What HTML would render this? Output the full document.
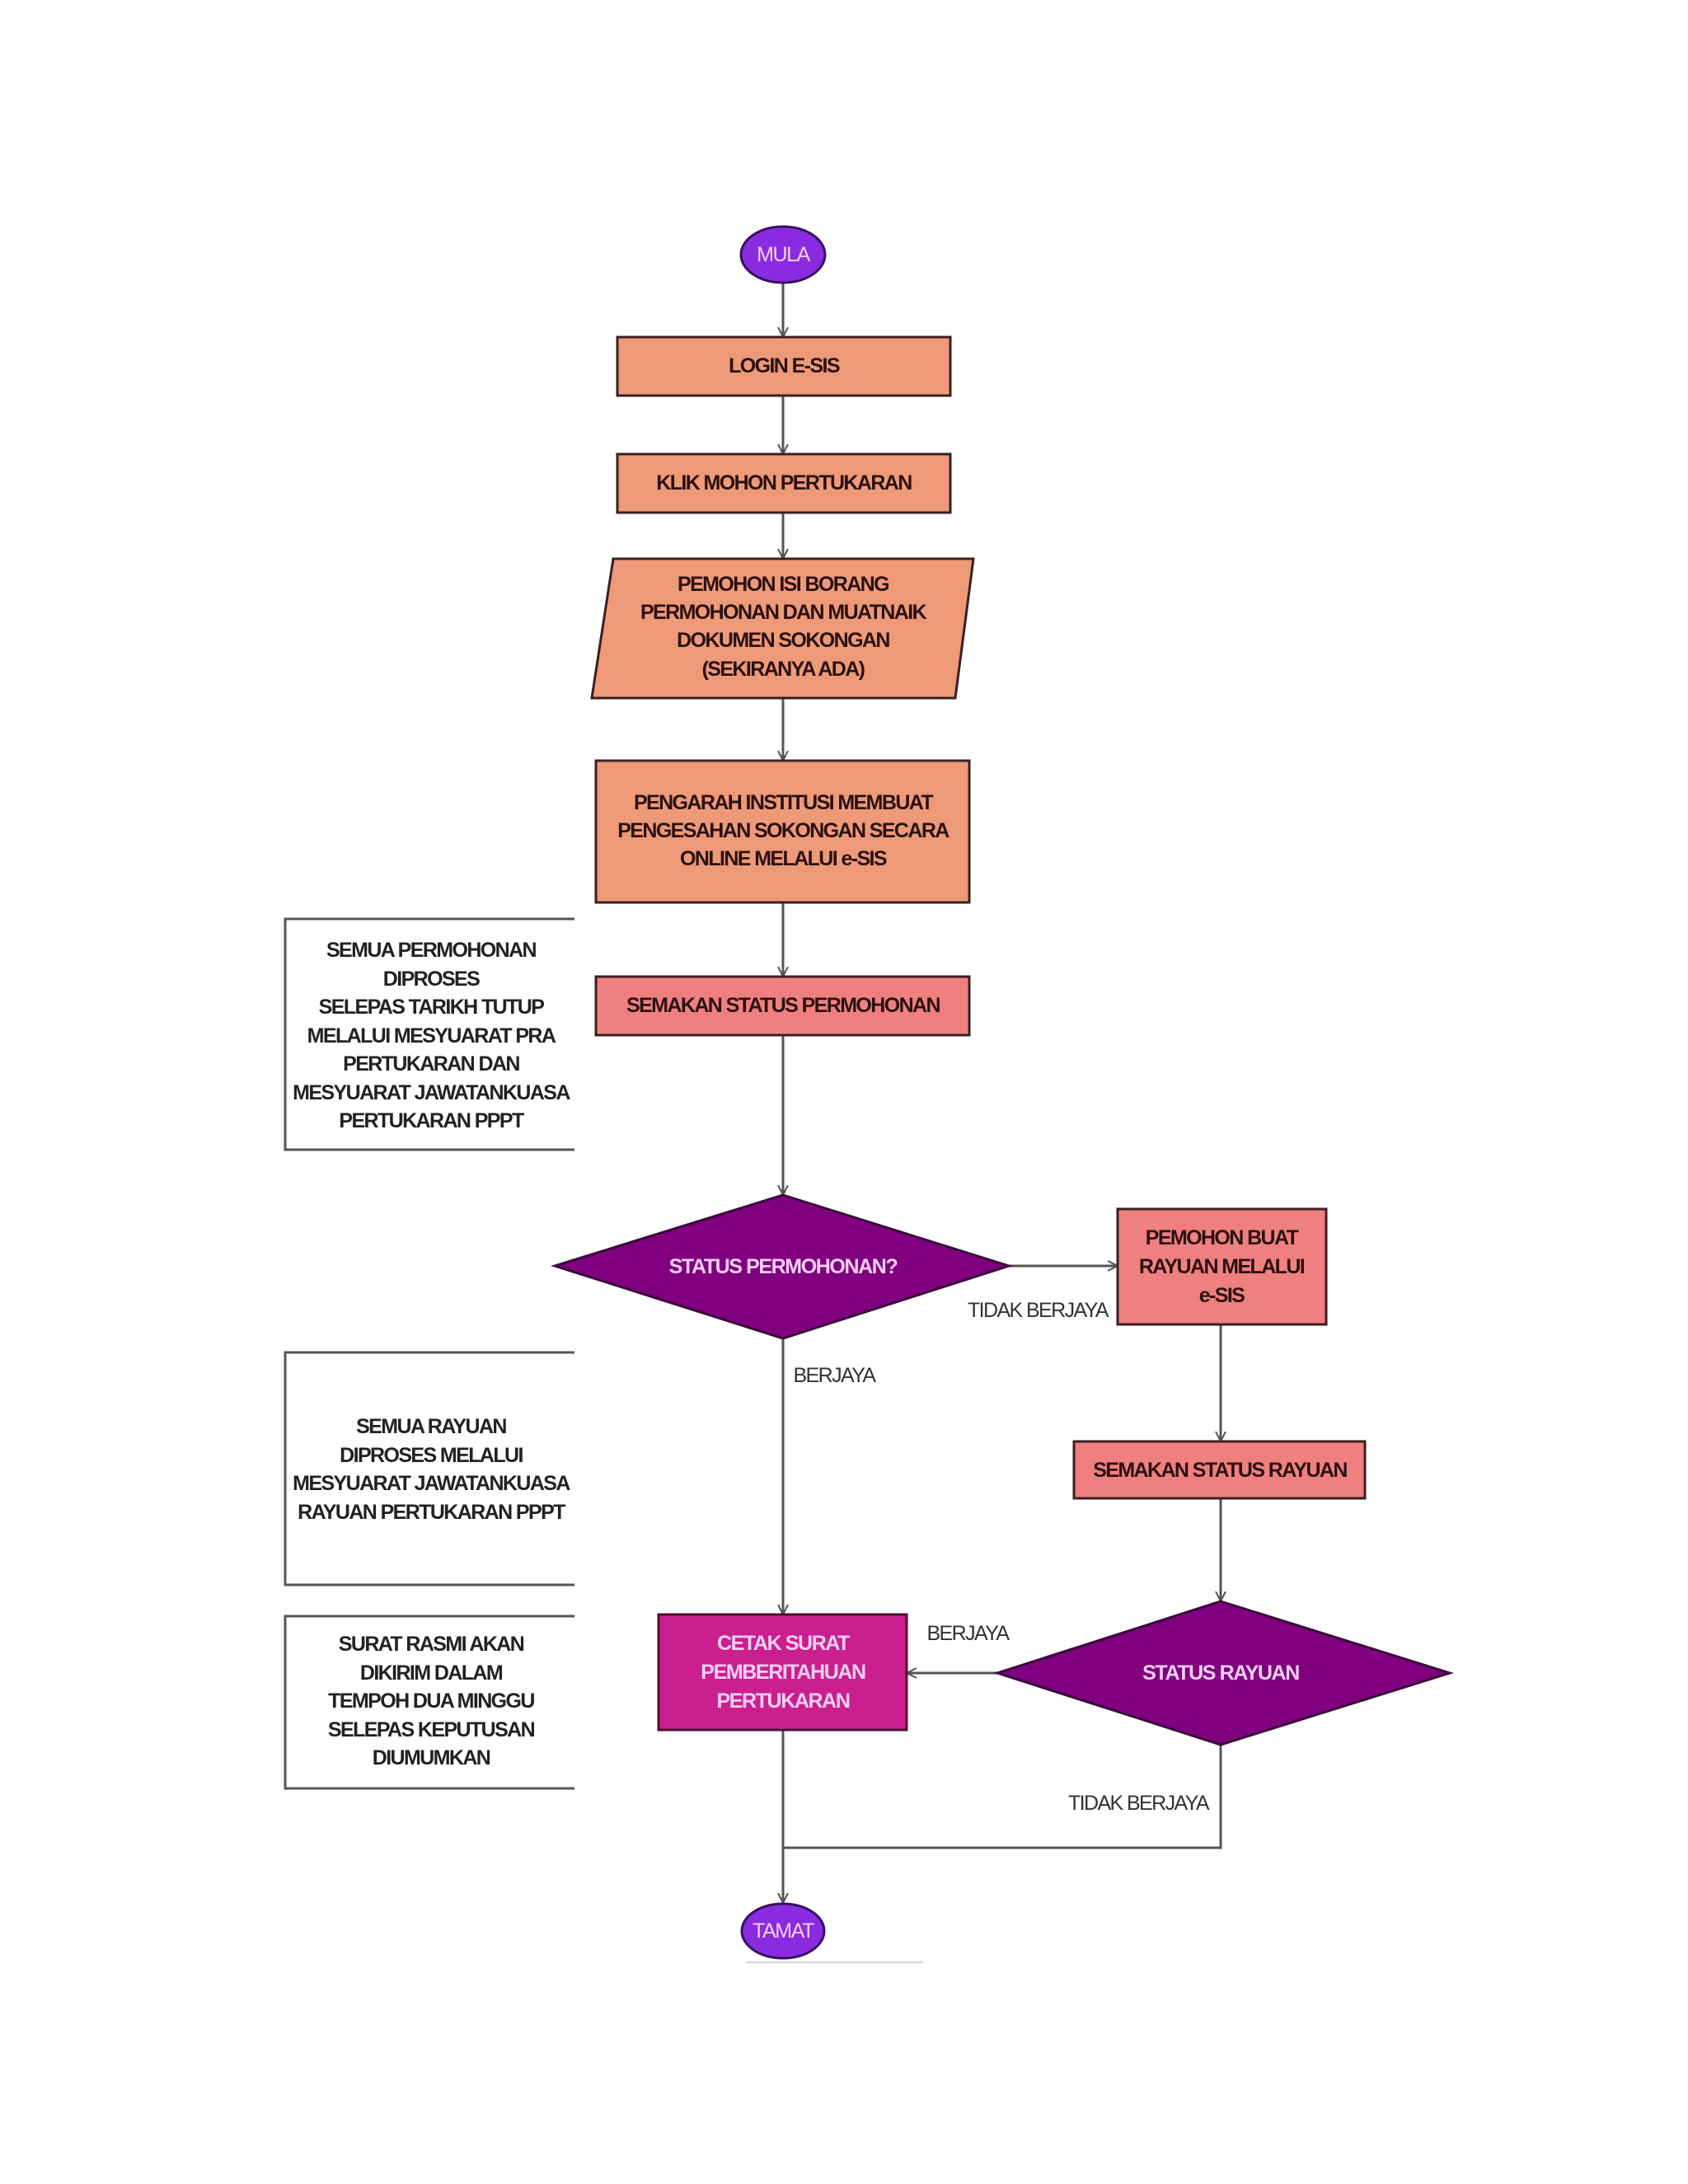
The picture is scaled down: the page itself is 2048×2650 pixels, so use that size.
<!DOCTYPE html>
<html><head><meta charset="utf-8"><style>
html,body{margin:0;padding:0;background:#fff;}
svg{display:block;}
text{font-family:"Liberation Sans",Arial,sans-serif;font-weight:bold;text-anchor:middle;dominant-baseline:central;}
.t{font-size:25px;letter-spacing:-1.6px;fill:#2a1010;}
.n{font-size:25px;letter-spacing:-1.6px;fill:#222;}
.w{font-size:25px;letter-spacing:-1.4px;fill:#f4d0f4;}
.l{font-size:25px;letter-spacing:-1.6px;fill:#333;font-weight:normal;}
</style></head><body>
<svg width="2048" height="2650" viewBox="0 0 2048 2650" xmlns="http://www.w3.org/2000/svg">
<defs><marker id="a" markerWidth="14" markerHeight="14" refX="12" refY="7" orient="auto" markerUnits="userSpaceOnUse"><path d="M0,1 L12,7 L0,13" fill="none" stroke="#555" stroke-width="2"/></marker></defs>
<g stroke="#555" stroke-width="3" fill="none">
<line x1="950" y1="343" x2="950" y2="409" marker-end="url(#a)"/>
<line x1="950" y1="480" x2="950" y2="551" marker-end="url(#a)"/>
<line x1="950" y1="622" x2="950" y2="678" marker-end="url(#a)"/>
<line x1="950" y1="847" x2="950" y2="923" marker-end="url(#a)"/>
<line x1="950" y1="1095" x2="950" y2="1185" marker-end="url(#a)"/>
<line x1="950" y1="1256" x2="950" y2="1450" marker-end="url(#a)"/>
<line x1="1224" y1="1536" x2="1356" y2="1536" marker-end="url(#a)"/>
<line x1="950" y1="1624" x2="950" y2="1959" marker-end="url(#a)"/>
<line x1="1481" y1="1607" x2="1481" y2="1749" marker-end="url(#a)"/>
<line x1="1481" y1="1818" x2="1481" y2="1943" marker-end="url(#a)"/>
<line x1="1210" y1="2030" x2="1100" y2="2030" marker-end="url(#a)"/>
<polyline points="1481,2117 1481,2242 950,2242"/>
<line x1="950" y1="2099" x2="950" y2="2309" marker-end="url(#a)"/>
</g>
<ellipse cx="950" cy="309" rx="51" ry="34" fill="#8a2be2" stroke="#3a1060" stroke-width="3"/>
<text x="950" y="309" class="w" style="font-weight:normal">MULA</text>
<rect x="749" y="409" width="404" height="71" fill="#ee9a78" stroke="#3a2020" stroke-width="3"/>
<text x="951" y="444" class="t">LOGIN E-SIS</text>
<rect x="749" y="551" width="404" height="71" fill="#ee9a78" stroke="#3a2020" stroke-width="3"/>
<text x="951" y="586" class="t">KLIK MOHON PERTUKARAN</text>
<polygon points="744,678 1181,678 1159,847 718,847" fill="#ee9a78" stroke="#3a2020" stroke-width="3"/>
<text x="950" y="709" class="t">PEMOHON ISI BORANG</text>
<text x="950" y="743" class="t">PERMOHONAN DAN MUATNAIK</text>
<text x="950" y="777" class="t">DOKUMEN SOKONGAN</text>
<text x="950" y="812" class="t">(SEKIRANYA  ADA)</text>
<rect x="723" y="923" width="453" height="172" fill="#ee9a78" stroke="#3a2020" stroke-width="3"/>
<text x="950" y="974" class="t">PENGARAH INSTITUSI MEMBUAT</text>
<text x="950" y="1008" class="t">PENGESAHAN SOKONGAN SECARA</text>
<text x="950" y="1042" class="t">ONLINE MELALUI e-SIS</text>
<rect x="723" y="1185" width="453" height="71" fill="#f08080" stroke="#3a2020" stroke-width="3"/>
<text x="950" y="1220" class="t">SEMAKAN STATUS PERMOHONAN</text>
<polyline points="697,1115 346,1115 346,1395 697,1395" fill="none" stroke="#555" stroke-width="3"/>
<g class="n">
<text x="523" y="1153" class="n">SEMUA PERMOHONAN</text>
<text x="523" y="1188" class="n">DIPROSES</text>
<text x="523" y="1222" class="n">SELEPAS TARIKH TUTUP</text>
<text x="523" y="1257" class="n">MELALUI MESYUARAT PRA</text>
<text x="523" y="1291" class="n">PERTUKARAN DAN</text>
<text x="523" y="1326" class="n">MESYUARAT JAWATANKUASA</text>
<text x="523" y="1360" class="n">PERTUKARAN PPPT</text>
</g>
<polygon points="950,1450 1224,1536 950,1624 673,1536" fill="#800080" stroke="#3a0a3a" stroke-width="3"/>
<text x="950" y="1537" class="w">STATUS PERMOHONAN?</text>
<rect x="1356" y="1467" width="253" height="140" fill="#f08080" stroke="#3a2020" stroke-width="3"/>
<text x="1482" y="1502" class="t">PEMOHON BUAT</text>
<text x="1482" y="1537" class="t">RAYUAN MELALUI</text>
<text x="1482" y="1572" class="t">e-SIS</text>
<text x="1259" y="1590" class="l">TIDAK BERJAYA</text>
<text x="1012" y="1669" class="l">BERJAYA</text>
<polyline points="697,1641 346,1641 346,1923 697,1923" fill="none" stroke="#555" stroke-width="3"/>
<text x="523" y="1731" class="n">SEMUA RAYUAN</text>
<text x="523" y="1766" class="n">DIPROSES MELALUI</text>
<text x="523" y="1800" class="n">MESYUARAT JAWATANKUASA</text>
<text x="523" y="1835" class="n">RAYUAN PERTUKARAN PPPT</text>
<rect x="1303" y="1749" width="353" height="69" fill="#f08080" stroke="#3a2020" stroke-width="3"/>
<text x="1480" y="1784" class="t">SEMAKAN STATUS RAYUAN</text>
<polygon points="1481,1943 1759,2030 1481,2117 1210,2030" fill="#800080" stroke="#3a0a3a" stroke-width="3"/>
<text x="1481" y="2030" class="w">STATUS RAYUAN</text>
<rect x="799" y="1959" width="301" height="140" fill="#cc1f8f" stroke="#4a1030" stroke-width="3"/>
<text x="950" y="1994" class="w">CETAK SURAT</text>
<text x="950" y="2029" class="w">PEMBERITAHUAN</text>
<text x="950" y="2064" class="w">PERTUKARAN</text>
<text x="1174" y="1982" class="l">BERJAYA</text>
<polyline points="697,1961 346,1961 346,2170 697,2170" fill="none" stroke="#555" stroke-width="3"/>
<text x="523" y="1995" class="n">SURAT RASMI AKAN</text>
<text x="523" y="2030" class="n">DIKIRIM DALAM</text>
<text x="523" y="2064" class="n">TEMPOH DUA MINGGU</text>
<text x="523" y="2099" class="n">SELEPAS KEPUTUSAN</text>
<text x="523" y="2133" class="n">DIUMUMKAN</text>
<text x="1381" y="2188" class="l">TIDAK BERJAYA</text>
<ellipse cx="950" cy="2343" rx="50" ry="33" fill="#8a2be2" stroke="#3a1060" stroke-width="3"/>
<text x="950" y="2343" class="w" style="font-weight:normal">TAMAT</text>
<line x1="905" y1="2381" x2="1120" y2="2381" stroke="#d8d0f0" stroke-width="2"/>
</svg>
</body></html>
